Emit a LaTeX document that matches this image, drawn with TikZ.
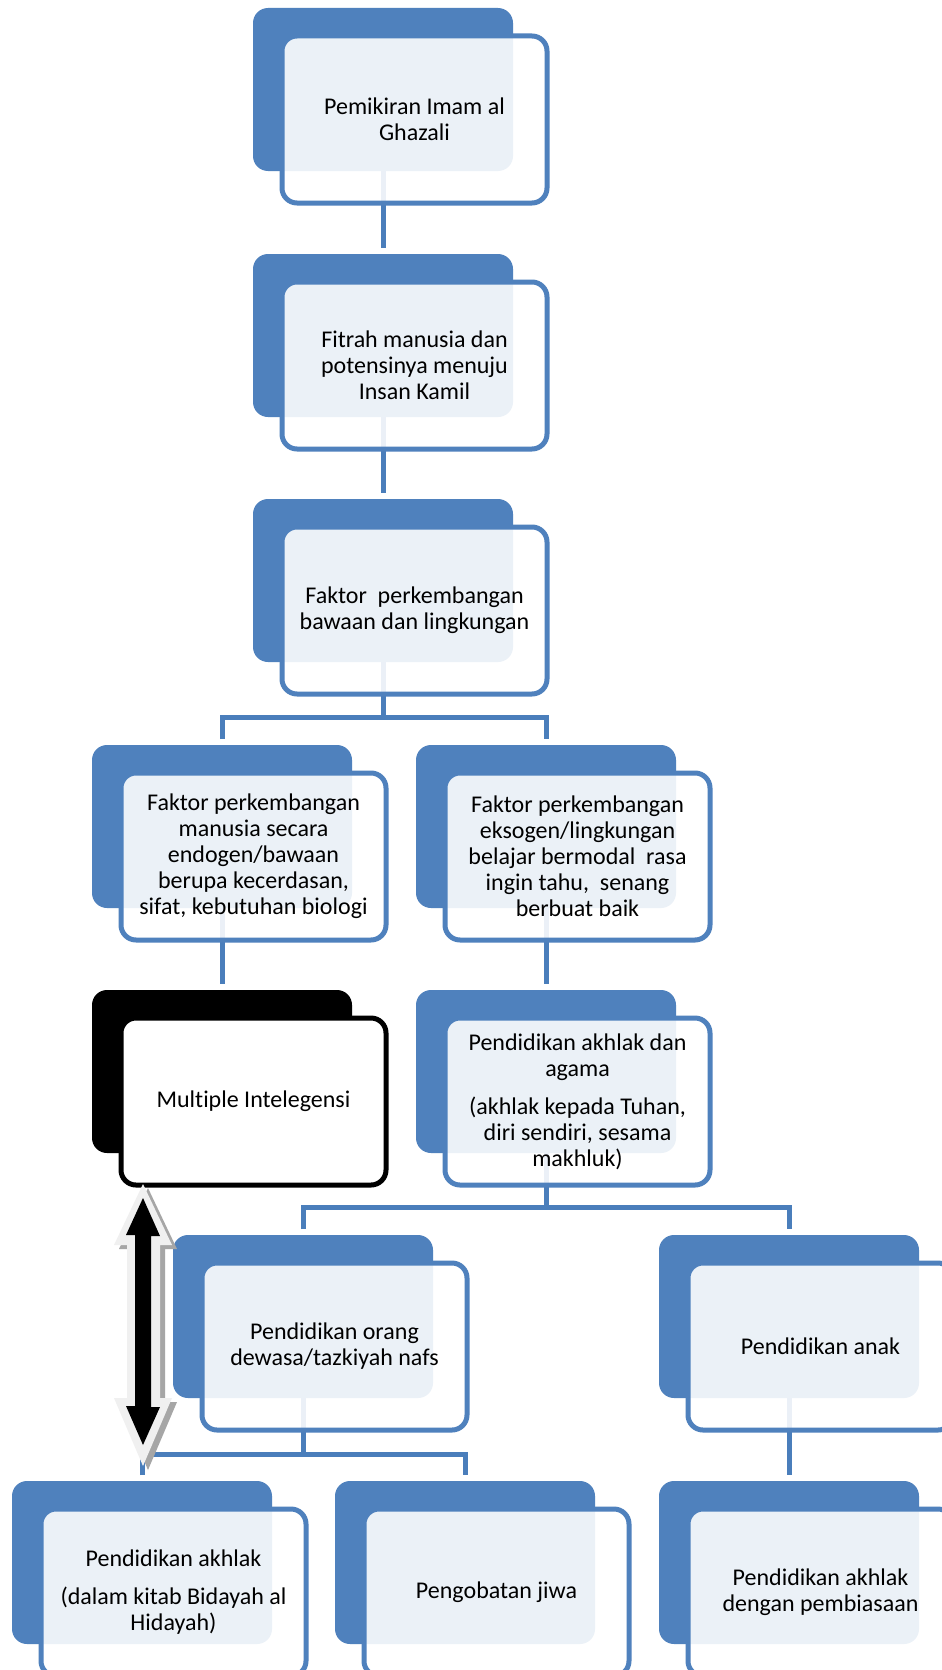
\documentclass[tikz,border=0pt]{standalone}
\usepackage{fontspec}
\setmainfont{Carlito}[Ligatures=NoCommon]
\usetikzlibrary{calc}
\pgfdeclarelayer{paper}
\pgfdeclarelayer{bg}
\pgfsetlayers{paper,bg,main}
\definecolor{sblue}{HTML}{4F81BD}
\definecolor{cblue}{HTML}{4A7EBB}
\definecolor{arrlight}{HTML}{F0F0F0}
\definecolor{arrshadow}{HTML}{A6A6A6}
\tikzset{
  backbox/.style={anchor=north west, fill=sblue, rounded corners=15pt,
    minimum width=260pt, minimum height=163pt, inner sep=0pt, outer sep=0pt},
  frontbox/.style={anchor=north west, draw=sblue, line width=5pt, rounded corners=15pt,
    fill=white, fill opacity=0.89, text opacity=1, minimum width=265pt,
    minimum height=167pt, inner sep=0pt, align=center,
    font=\fontsize{24}{26}\selectfont},
  backblack/.style={backbox, fill=black},
  frontblack/.style={frontbox, draw=black, fill opacity=1},
  conn/.style={draw=cblue, line width=5pt},
}
\newcommand\mybox[5][]{%
  \node[backbox,#1] (b#2) at (#3,#4) {};
  \node[frontbox,#1] (f#2) at (#3+26.5,#4+25.5) {#5};
}
\begin{document}
\begin{tikzpicture}[x=1pt,y=-1pt]
\useasboundingbox (0,0) rectangle (942,1670);
\begin{pgfonlayer}{paper}
\fill[white] (0,0) rectangle (942,1670);
\end{pgfonlayer}
\clip (0,0) rectangle (942,1670);

\mybox{1}{253}{8}{Pemikiran Imam al\\Ghazali}
\mybox{2}{253}{254}{Fitrah manusia dan\\potensinya menuju\\Insan Kamil}
\mybox{3}{253}{499}{Faktor\ \ perkembangan\\bawaan dan lingkungan}
\mybox{4L}{92}{745}{Faktor perkembangan\\manusia secara\\endogen/bawaan\\berupa kecerdasan,\\sifat, kebutuhan biologi}
\mybox{4R}{416}{745}{Faktor perkembangan\\eksogen/lingkungan\\belajar bermodal\ \ rasa\\ingin tahu,\ \ senang\\berbuat baik}
\node[backblack] (b5L) at (92,990) {};
\node[frontblack] (f5L) at (92+26.5,990+25.5) {Multiple Intelegensi};
\mybox{5R}{416}{990}{Pendidikan akhlak dan\\agama\\[12pt](akhlak kepada Tuhan,\\diri sendiri, sesama\\makhluk)}
\mybox{6L}{173}{1235}{Pendidikan orang\\dewasa/tazkiyah nafs}
\mybox{6R}{659}{1235}{Pendidikan anak}
\mybox{7L}{12}{1481}{Pendidikan akhlak\\[12pt](dalam kitab Bidayah al\\Hidayah)}
\mybox{7M}{335}{1481}{Pengobatan jiwa}
\mybox{7R}{659}{1481}{Pendidikan akhlak\\dengan pembiasaan}

\coordinate (j3) at (0,717);
\coordinate (j5) at (0,1207);
\coordinate (j6) at (0,1454);

\begin{pgfonlayer}{bg}
\draw[conn] (b1.south) -- ([yshift=6pt]b2.north);
\draw[conn] (b2.south) -- ([yshift=6pt]b3.north);
\draw[conn] (b3.south) -- (b3.south |- j3);
\draw[conn] ([yshift=6pt]b4L.north) |- (j3 -| b3.south) -| ([yshift=6pt]b4R.north);
\draw[conn] (b4L.south) -- ([yshift=6pt]b5L.north);
\draw[conn] (b4R.south) -- ([yshift=6pt]b5R.north);
\draw[conn] (b5R.south) -- (b5R.south |- j5);
\draw[conn] ([yshift=6pt]b6L.north) |- (j5 -| b5R.south) -| ([yshift=6pt]b6R.north);
\draw[conn] (b6L.south) -- (b6L.south |- j6);
\draw[conn] ([yshift=6pt]b7L.north) |- (j6 -| b6L.south) -| ([yshift=6pt]b7M.north);
\draw[conn] (b6R.south) -- ([yshift=6pt]b7R.north);
\end{pgfonlayer}

% double arrow
\coordinate (at) at (143,1198);
\coordinate (ab) at (143,1445);
\fill[arrshadow] ([shift={(5,4)}]at) ++(0,-14) -- ++(29,61) -- ++(-12,0) -- ++(0,153) -- ++(12,0)
  -- ++(-29,68) -- ++(-29,-68) -- ++(13,0) -- ++(0,-153) -- ++(-13,0) -- cycle;
\fill[arrlight] (at) ++(0,-14) -- ++(29,61) -- ++(-12,0) -- ++(0,153) -- ++(12,0)
  -- ++(-29,68) -- ++(-29,-68) -- ++(13,0) -- ++(0,-153) -- ++(-13,0) -- cycle;
\fill[black] (at) -- ++(17,38) -- ++(-9,0) -- ++(0,171) -- ++(9,0) -- (ab)
  -- ++(-17,-39) -- ++(9,0) -- ++(0,-171) -- ++(-9,0) -- cycle;
\end{tikzpicture}
\end{document}
